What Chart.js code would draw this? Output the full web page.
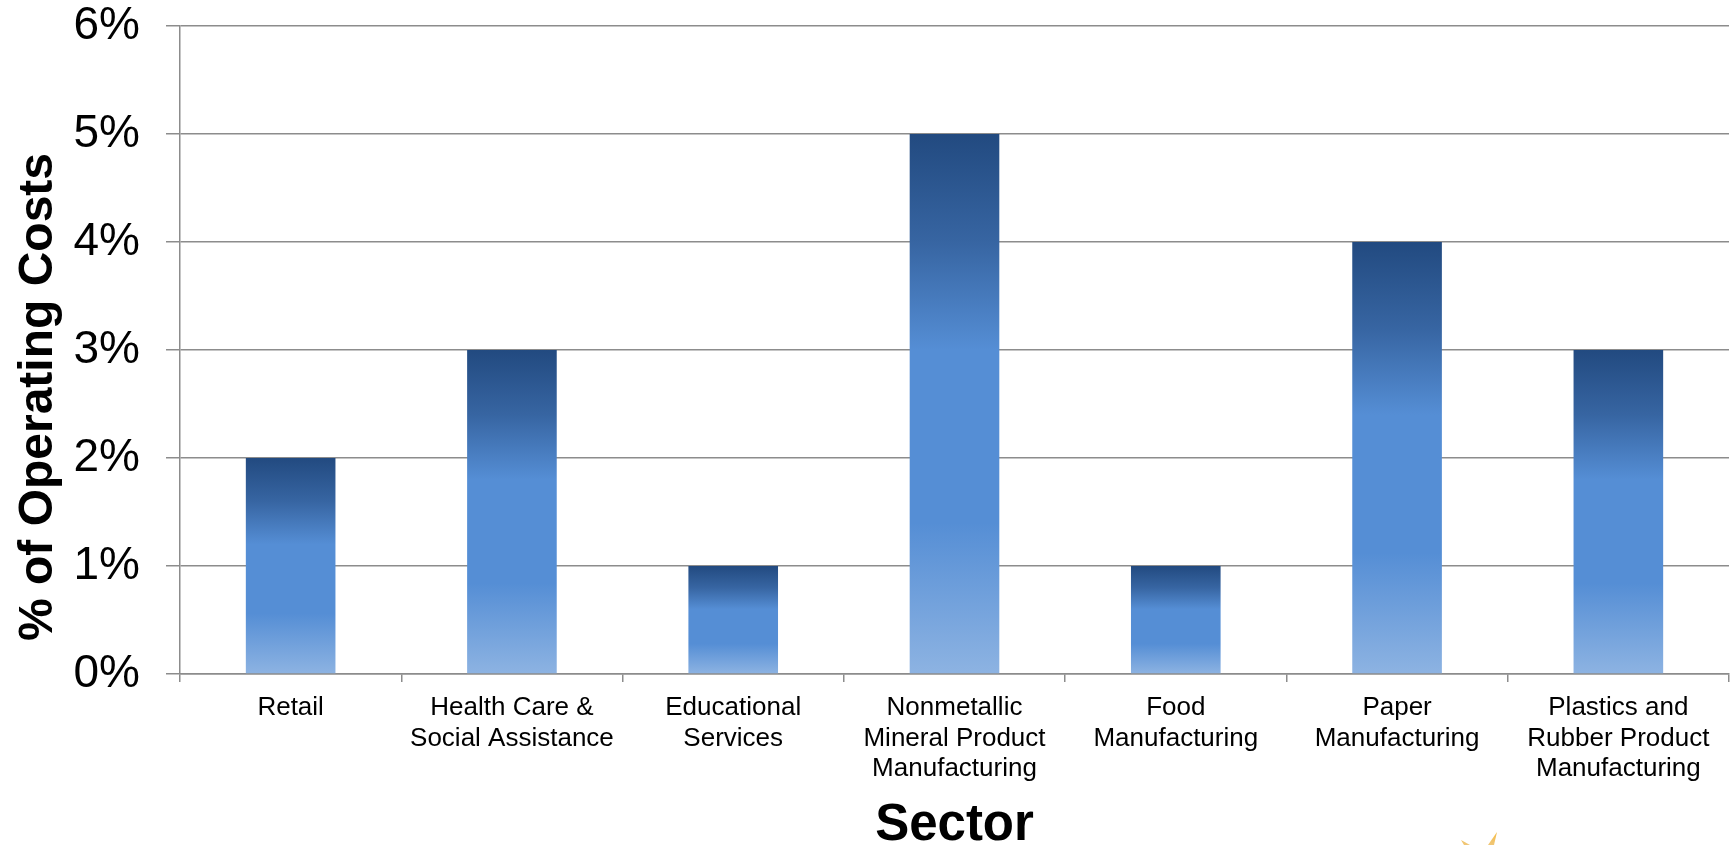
<!DOCTYPE html>
<html>
<head>
<meta charset="utf-8">
<script src="https://cdn.jsdelivr.net/npm/chart.js@4"></script>
<style>
  html, body { margin: 0; padding: 0; background: #ffffff; }
  #wrap { width: 1734px; height: 845px; position: relative; }
</style>
</head>
<body>
<div id="wrap"><canvas id="c" width="1734" height="845"></canvas></div>
<script>
const categories = [
  "Retail",
  ["Health Care &", "Social Assistance"],
  ["Educational", "Services"],
  ["Nonmetallic", "Mineral Product", "Manufacturing"],
  ["Food", "Manufacturing"],
  ["Paper", "Manufacturing"],
  ["Plastics and", "Rubber Product", "Manufacturing"]
];
const operatingCostShare = [2, 3, 1, 5, 1, 4, 3];
const yTickValues = [0, 1, 2, 3, 4, 5, 6];
const yTitle = "% of Operating Costs";
const xTitle = "Sector";

const FONT = "'Liberation Sans', Arial, sans-serif";
const GRID = '#8c8c8c';

function barGradient(c) {
  const chart = c.chart;
  const fallback = '#558ED5';
  if (!chart.chartArea || c.type !== 'data') return fallback;
  const ys = chart.scales.y;
  const top = ys.getPixelForValue(c.raw);
  const bot = ys.getPixelForValue(0);
  if (!isFinite(top) || !isFinite(bot) || bot - top < 1) return fallback;
  const g = chart.ctx.createLinearGradient(0, top, 0, bot);
  g.addColorStop(0, '#224a80');
  g.addColorStop(0.2, '#3765a2');
  g.addColorStop(0.4, '#558ED5');
  g.addColorStop(0.72, '#558ED5');
  g.addColorStop(1, '#8DB3E2');
  return g;
}

const axisTitles = {
  id: 'axisTitles',
  afterDraw(chart) {
    const ctx = chart.ctx;
    const area = chart.chartArea;
    ctx.save();
    ctx.fillStyle = '#000';
    ctx.font = "bold 48px " + FONT;
    ctx.textAlign = 'center';
    ctx.textBaseline = 'alphabetic';
    ctx.translate(52, 397);
    ctx.rotate(-Math.PI / 2);
    ctx.fillText(yTitle, 0, 0);
    ctx.restore();
    ctx.save();
    ctx.fillStyle = '#000';
    ctx.font = "bold 51px " + FONT;
    ctx.textAlign = 'center';
    ctx.textBaseline = 'alphabetic';
    ctx.fillText(xTitle, (area.left + area.right) / 2, 840);
    ctx.restore();
    ctx.save();
    const g = ctx.createLinearGradient(0, 830, 0, 845);
    g.addColorStop(0, '#f6b93a');
    g.addColorStop(1, '#f0c779');
    ctx.fillStyle = g;
    ctx.beginPath();
    ctx.moveTo(1461, 840); ctx.lineTo(1470, 845); ctx.lineTo(1464, 845); ctx.closePath();
    ctx.fill();
    ctx.beginPath();
    ctx.moveTo(1497, 832); ctx.lineTo(1494, 845); ctx.lineTo(1488, 845); ctx.closePath();
    ctx.fill();
    ctx.restore();
  }
};

new Chart(document.getElementById('c'), {
  type: 'bar',
  data: {
    labels: categories,
    datasets: [{
      data: operatingCostShare,
      backgroundColor: barGradient,
      borderWidth: 0,
      barPercentage: 0.405,
      categoryPercentage: 1.0
    }]
  },
  options: {
    responsive: false,
    animation: false,
    devicePixelRatio: 1,
    layout: { padding: { top: 0, right: 5, left: 0, bottom: 0 } },
    plugins: {
      legend: { display: false },
      tooltip: { enabled: false },
      title: { display: false }
    },
    scales: {
      x: {
        offset: true,
        grid: {
          offset: true,
          drawOnChartArea: false,
          drawTicks: true,
          tickLength: 8,
          color: GRID,
          lineWidth: 1.5
        },
        border: { display: true, color: GRID, width: 1.5 },
        ticks: {
          color: '#000',
          padding: 11,
          maxRotation: 0,
          autoSkip: false,
          font: { family: FONT, size: 26, lineHeight: 1.17 }
        },
        afterFit(scale) {
          scale.height = 171;
          scale.paddingLeft = 0;
          scale.paddingRight = 0;
        }
      },
      y: {
        min: 0,
        max: 6,
        afterBuildTicks(scale) { scale.ticks = yTickValues.map(v => ({ value: v })); },
        grid: {
          color: GRID,
          lineWidth: 1.5,
          tickLength: 14,
          drawTicks: true
        },
        border: { display: true, color: GRID, width: 1.5 },
        ticks: {
          color: '#000',
          padding: 26,
          font: { family: FONT, size: 46, lineHeight: 1.13 },
          callback: (v) => v + '%'
        },
        afterFit(scale) {
          scale.width = 180;
          scale.paddingTop = 26;
          scale.paddingBottom = 0;
        }
      }
    }
  },
  plugins: [axisTitles]
});
</script>
</body>
</html>
